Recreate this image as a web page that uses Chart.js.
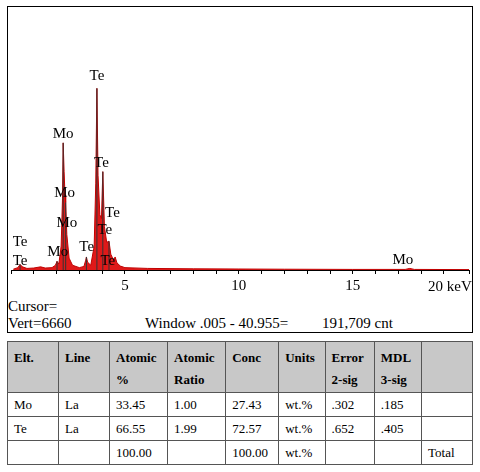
<!DOCTYPE html>
<html>
<head>
<meta charset="utf-8">
<script src="https://cdn.jsdelivr.net/npm/chart.js@4/dist/chart.umd.min.js"></script>
<style>
  body { margin: 0; background: #fff; font-family: "Times New Roman", "Liberation Serif", "DejaVu Serif", serif; }
  #box { position: absolute; left: 7px; top: 6px; width: 464px; height: 325px; border: 1px solid #000; }
  #wrap { position: absolute; left: 0; top: 0; width: 464px; height: 291px; }
  .txt { position: absolute; font-size: 15px; color: #000; }
  table { position: absolute; left: 7px; top: 341px; width: 466px; border-collapse: collapse; font-size: 13px; font-family: inherit; }
  td, th { border: 1px solid #555; padding: 1px 6px; height: 21px; text-align: left; vertical-align: middle; font-family: inherit; }
  th { background: #c8c8c8; font-weight: bold; height: 44px; vertical-align: top; padding-top: 5px; line-height: 22px; }
</style>
</head>
<body>
<div id="box">
  <div id="wrap"><canvas id="spec"></canvas></div>
  <div class="txt" style="left:420px;top:271px">20 keV</div>
  <div class="txt" style="left:0;top:291px">Cursor=</div>
  <div class="txt" style="left:0;top:308px">Vert=6660</div>
  <div class="txt" style="left:137px;top:308px">Window .005 - 40.955=</div>
  <div class="txt" style="left:314px;top:308px">191,709 cnt</div>
</div>
<table>
  <tr><th style="width:38px">Elt.</th><th style="width:38px">Line</th><th>Atomic<br>%</th><th>Atomic<br>Ratio</th><th>Conc</th><th>Units</th><th>Error<br>2-sig</th><th>MDL<br>3-sig</th><th style="width:38px"></th></tr>
  <tr><td>Mo</td><td>La</td><td>33.45</td><td>1.00</td><td>27.43</td><td>wt.%</td><td>.302</td><td>.185</td><td></td></tr>
  <tr><td>Te</td><td>La</td><td>66.55</td><td>1.99</td><td>72.57</td><td>wt.%</td><td>.652</td><td>.405</td><td></td></tr>
  <tr><td></td><td></td><td>100.00</td><td></td><td>100.00</td><td>wt.%</td><td></td><td></td><td>Total</td></tr>
</table>
<script>
// spectrum (keV, counts)
const energies = [0.1, 0.3, 0.4, 0.5, 0.7, 1.0, 1.3, 1.5, 1.8, 1.95, 2.02, 2.1, 2.2, 2.26, 2.29, 2.33, 2.37, 2.40, 2.45, 2.55, 2.7, 3.0, 3.2, 3.28, 3.31, 3.36, 3.5, 3.65, 3.72, 3.77, 3.82, 3.9, 3.97, 4.03, 4.1, 4.2, 4.3, 4.38, 4.5, 4.57, 4.65, 4.8, 5.0, 6, 8, 10, 12, 15, 17.3, 17.5, 17.7, 20.1];
const counts   = [20, 60, 140, 80, 40, 50, 80, 50, 60, 120, 220, 150, 600, 1800, 3220, 2500, 1900, 1710, 900, 300, 120, 60, 90, 250, 330, 200, 120, 600, 2200, 4600, 2400, 1400, 1300, 2490, 1100, 700, 730, 400, 250, 330, 180, 100, 60, 40, 30, 25, 20, 15, 15, 40, 15, 10];
const peakKeV    = [2.29, 2.40, 3.77, 4.03, 4.30, 3.31, 2.02, 0.40];
const peakCounts = [3220, 1710, 4600, 2490, 730, 330, 220, 140];
const labelText  = ['Te', 'Mo', 'Mo', 'Mo', 'Te', 'Te', 'Te', 'Te', 'Mo', 'Te', 'Te', 'Mo', 'Te'];
const labelKeV   = [3.77, 2.29, 2.35, 2.45, 3.97, 4.45, 4.12, 3.32, 2.05, 0.4, 0.4, 17.2, 4.25];
const labelCounts= [4900, 3450, 1950, 1200, 2700, 1430, 1000, 580, 460, 700, 230, 260, 230];

const serif = '"Times New Roman", "Liberation Serif", serif';
const ctx = document.getElementById('spec').getContext('2d');
const labelPlugin = {
  id: 'peakLabels',
  afterDatasetsDraw(chart) {
    const { ctx, scales: { x, y } } = chart;
    ctx.save();
    // peak marker sticks
    ctx.strokeStyle = '#333';
    ctx.lineWidth = 1;
    peakKeV.forEach((k, i) => {
      ctx.beginPath();
      ctx.moveTo(x.getPixelForValue(k), y.getPixelForValue(0));
      ctx.lineTo(x.getPixelForValue(k), y.getPixelForValue(peakCounts[i]));
      ctx.stroke();
    });
    ctx.font = '15px ' + serif;
    ctx.fillStyle = '#000';
    ctx.textAlign = 'center';
    ctx.textBaseline = 'middle';
    labelText.forEach((t, i) => {
      ctx.fillText(t, x.getPixelForValue(labelKeV[i]), y.getPixelForValue(labelCounts[i]));
    });
    ctx.restore();
  }
};

new Chart(ctx, {
  type: 'line',
  data: {
    datasets: [{
      data: energies.map((e, i) => ({ x: e, y: counts[i] })),
      borderColor: '#c00000',
      backgroundColor: 'rgba(220, 0, 0, 0.9)',
      borderWidth: 1,
      pointRadius: 0,
      tension: 0,
      fill: true
    }]
  },
  options: {
    responsive: true,
    maintainAspectRatio: false,
    animation: false,
    layout: { padding: 0 },
    plugins: { legend: { display: false }, tooltip: { enabled: false } },
    scales: {
      x: {
        type: 'linear', min: 0, max: 20.1,
        border: { color: '#000' },
        grid: { drawOnChartArea: false, tickLength: 4, color: '#000' },
        ticks: {
          stepSize: 1, autoSkip: false, maxRotation: 0, color: '#000',
          font: { family: serif, size: 15 },
          callback: v => (v % 5 === 0 && v > 0 && v < 20 ? String(v) : '')
        }
      },
      y: { display: false, min: 0, max: 6660 }
    }
  },
  plugins: [labelPlugin]
});
</script>
</body>
</html>
